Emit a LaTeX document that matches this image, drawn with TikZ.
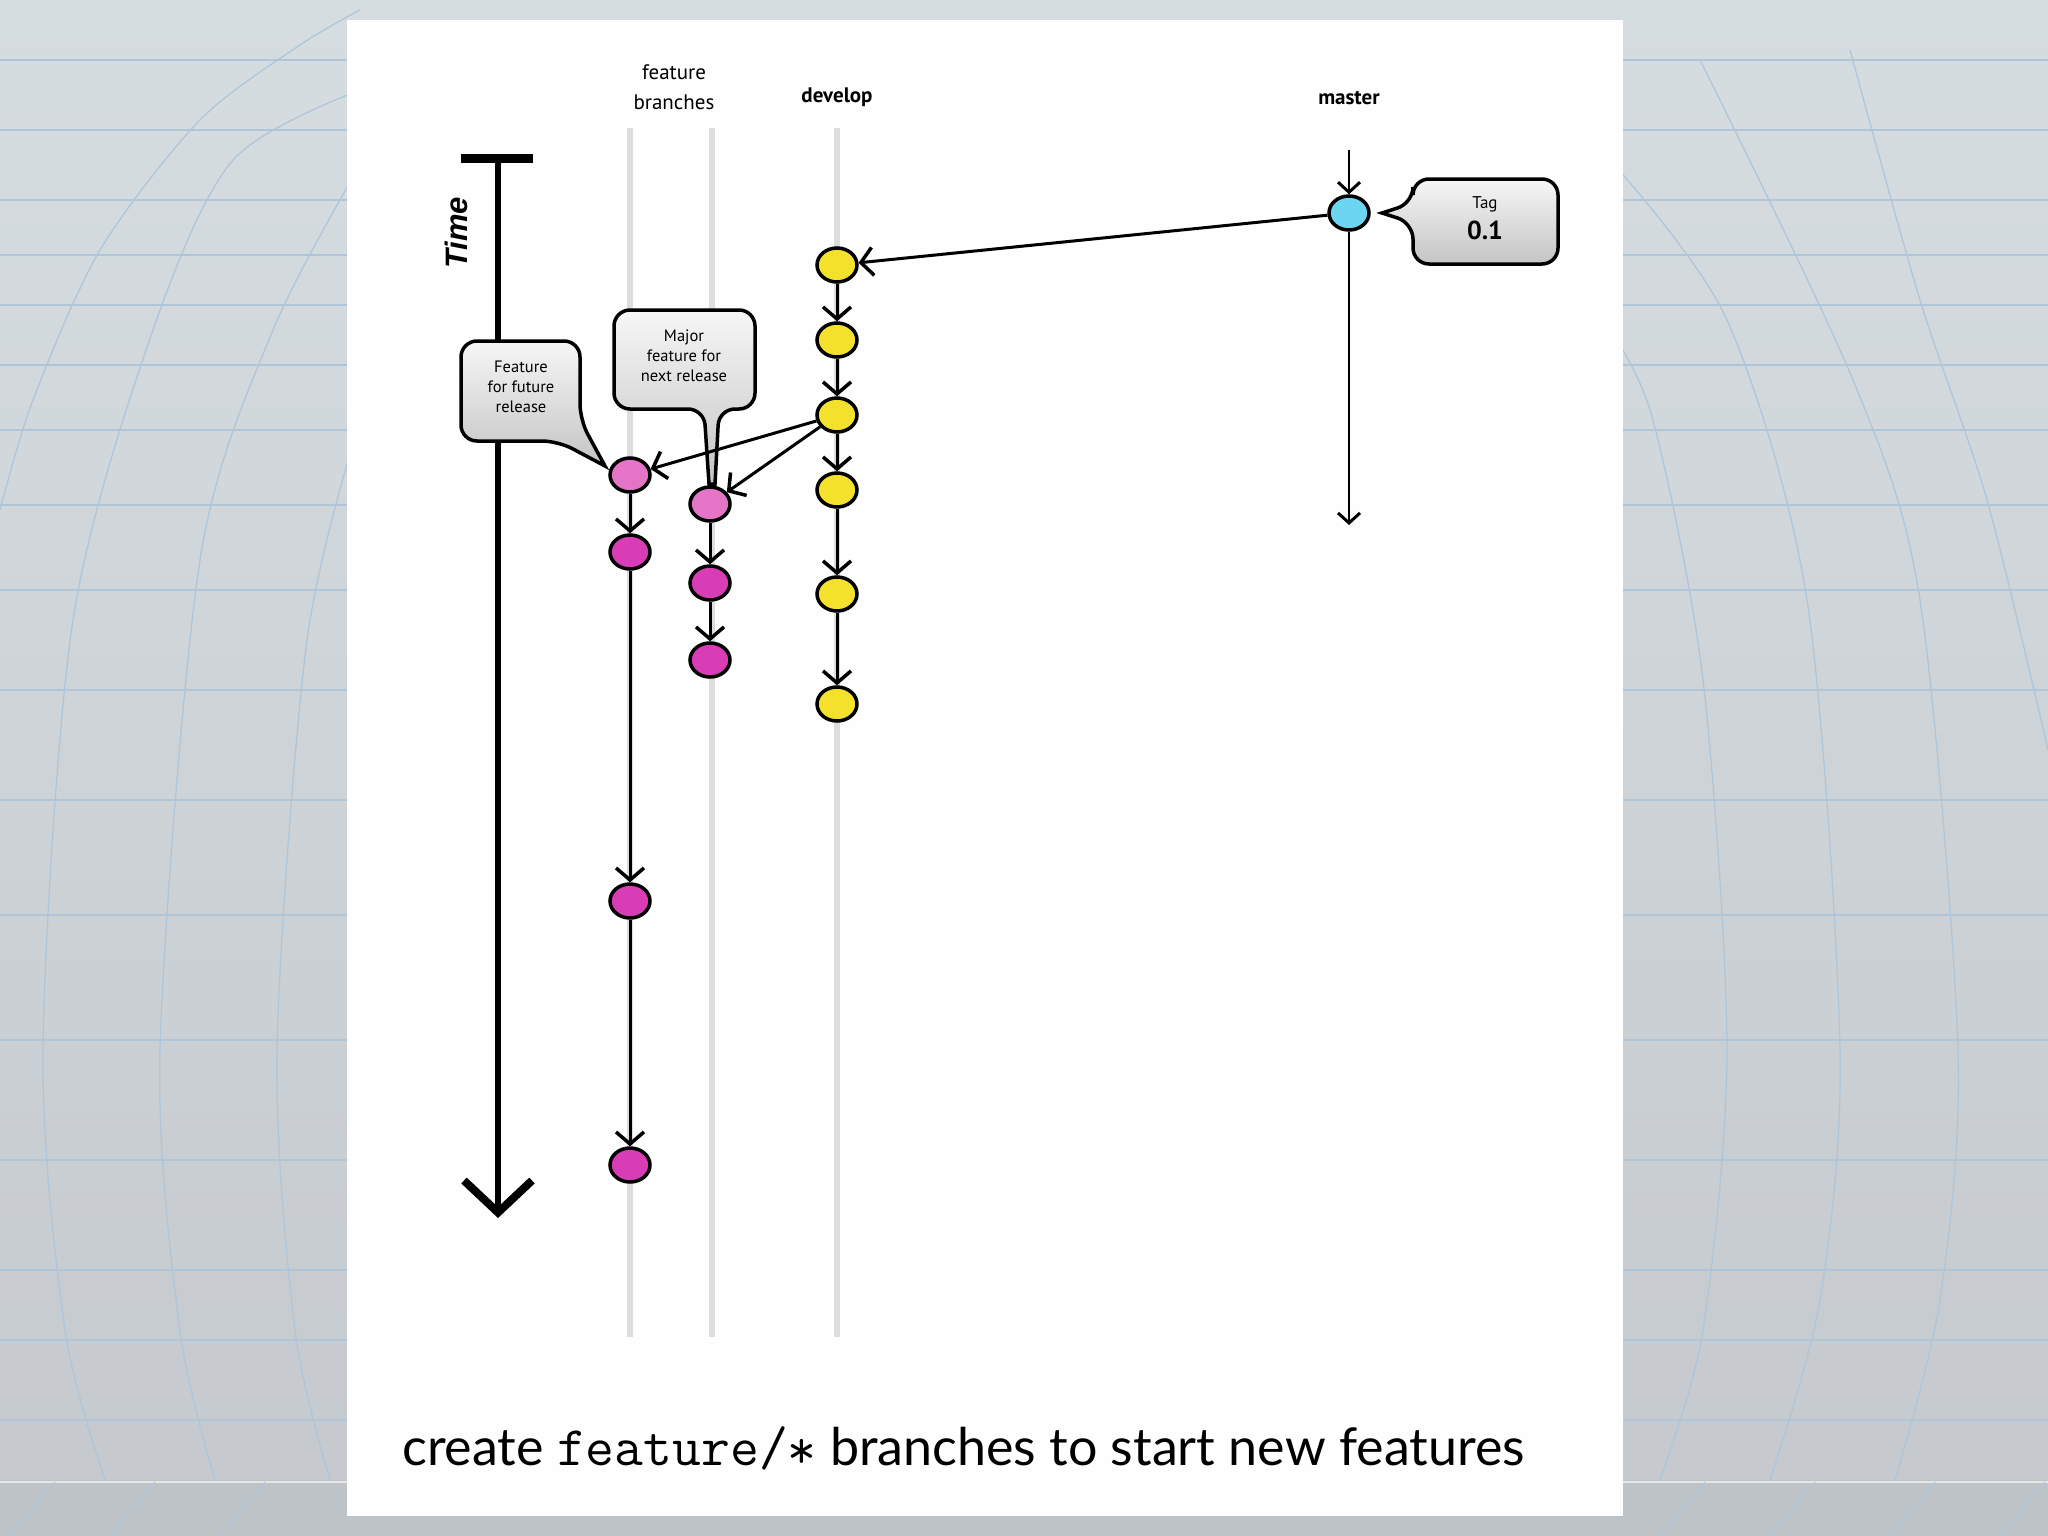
\documentclass[tikz,border=0pt]{standalone}
\usepackage{fontspec}
\setmainfont{PT Sans}
\newfontfamily\capfont{Lato}
\newfontfamily\timefont{Liberation Sans}
\usetikzlibrary{arrows.meta,shapes.geometric}
\definecolor{bgtop}{HTML}{D6DDE1}
\definecolor{bgbot}{HTML}{C5C9CD}
\definecolor{band}{HTML}{BEC3C7}
\definecolor{gridc}{HTML}{AFC6DA}
\definecolor{card}{HTML}{FEFEFE}
\definecolor{lanegray}{HTML}{DDDDDD}
\definecolor{cyellow}{HTML}{F4E12C}
\definecolor{ccyan}{HTML}{6CD6F2}
\definecolor{cpink}{HTML}{E474C6}
\definecolor{cmagenta}{HTML}{D83DB5}
\definecolor{bubtop}{HTML}{F6F6F6}
\definecolor{bubbot}{HTML}{C4C4C4}
\begin{document}
\begin{tikzpicture}[x=1pt,y=-1pt,
  gridline/.style={draw=gridc, line width=1.3pt},
  lane/.style={draw=lanegray, line width=5.5pt},
  commit/.style={ellipse, draw=black, line width=3.5pt, minimum width=40pt, minimum height=34pt, inner sep=0pt},
  devc/.style={commit, fill=cyellow},
  mastc/.style={commit, fill=ccyan},
  featc/.style={commit, fill=cmagenta},
  featstart/.style={commit, fill=cpink},
  flow/.style={draw=black, line width=3pt, -{Straight Barb[length=12pt,width=28pt,line width=3.5pt]}},
  thinflow/.style={draw=black, line width=2.5pt, -{Straight Barb[length=10pt,width=22pt,line width=3pt]}},
  timearrow/.style={draw=black, line width=6pt, -{Straight Barb[length=32pt,width=68pt,line width=8pt]}},
  bubble/.style={draw=black, line width=3.5pt, top color=bubtop, bottom color=bubbot, rounded corners=16pt},
  bubtext/.style={align=center, font=\fontsize{16.5}{20}\selectfont, inner sep=0pt},
  lbl/.style={font=\fontsize{21}{30}\selectfont, align=center, inner sep=0pt},
  blbl/.style={font=\bfseries\fontsize{21}{25}\selectfont, inner sep=0pt}
]
\useasboundingbox (0,0) rectangle (2048,1536);
% background paper
\fill[top color=bgtop, bottom color=bgbot] (0,0) rectangle (2048,1536);
\foreach \yy in {60,130,200,255,305,365,430,505,590,690,800,915,1040,1160,1270,1340,1420}
  \draw[gridline] (0,\yy) -- (2048,\yy);
\draw[gridline] plot[smooth] coordinates {(0,510) (33,400) (100,250) (200,120) (300,45) (360,10)};
\draw[gridline] plot[smooth] coordinates {(360,90) (233,160) (153,330) (73,620) (43,1050) (65,1330) (105,1480)};
\draw[gridline] plot[smooth] coordinates {(360,165) (273,330) (200,560) (160,1050) (180,1330) (215,1480)};
\draw[gridline] plot[smooth] coordinates {(360,420) (307,640) (277,1050) (295,1330) (330,1480)};
\draw[gridline] plot[smooth] coordinates {(1610,330) (1653,420) (1703,680) (1727,1050) (1703,1330) (1660,1480)};
\draw[gridline] plot[smooth] coordinates {(1610,160) (1727,320) (1807,600) (1840,1050) (1820,1300) (1770,1480)};
\draw[gridline] plot[smooth] coordinates {(1700,60) (1853,380) (1920,600) (1958,1050) (1940,1300) (1895,1480)};
\draw[gridline] plot[smooth] coordinates {(1850,50) (1920,300) (1987,500) (2048,750)};
\fill[band] (0,1480) rectangle (2048,1536);
\draw[draw=white, line width=2pt, opacity=0.6] (0,1482) -- (2048,1482);
\foreach \xx in {10,110,220,1660,1770,1890,2000}
  \draw[gridline] (\xx,1536) -- (\xx+45,1482);
% white card
\fill[card] (347,20) rectangle (1623,1516);

% lanes
\draw[lane] (630,128) -- (630,1337);
\draw[lane] (712,128) -- (712,1337);
\draw[lane] (837,128) -- (837,1337);

% labels
\node[lbl] (fblabel) at (674,87) {feature\\branches};
\node[blbl] (devlabel) at (837,97) {develop};
\node[blbl] (mastlabel) at (1349,98) {master};

% time axis
\coordinate (tbarL) at (461,159);
\coordinate (tbarR) at (533,159);
\coordinate (ttop) at (498,159);
\coordinate (tbot) at (498,1218);
\draw[line width=9pt] (tbarL) -- (tbarR);
\draw[timearrow] (ttop) -- (tbot);
\node[rotate=90, font=\timefont\bfseries\itshape\fontsize{31}{36}\selectfont, inner sep=0pt] (timelbl) at (456,233) {Time};

% callouts
\path[bubble] (461,341) -- (580,341) -- (580,420) [sharp corners] -- (605,466) [rounded corners=16pt] -- (558,441) -- (461,441) -- cycle;
\node[bubtext] (b1t) at (521,387) {Feature\\for future\\release};
\path[bubble] (614,310) -- (755,310) -- (755,409) -- (719,409) [sharp corners] -- (715,484) -- (709,484) [rounded corners=16pt] -- (704,409) -- (614,409) -- cycle;
\node[bubtext] (b2t) at (684,356) {Major\\feature for\\next release};
\path[bubble] (1413,179) -- (1558,179) -- (1558,264) -- (1413,264) -- (1413,223) [sharp corners] -- (1382,213) [rounded corners=16pt] -- (1413,203) -- cycle;
\node[font=\fontsize{17}{20}\selectfont, inner sep=0pt] (tagl) at (1485,204) {Tag};
\node[font=\bfseries\fontsize{26}{30}\selectfont, inner sep=0pt] (tagv) at (1485,230) {0.1};

% commits
\node[mastc] (m1) at (1349,213) {};
\node[devc] (d1) at (837,265) {};
\node[devc] (d2) at (837,340) {};
\node[devc] (d3) at (837,415) {};
\node[devc] (d4) at (837,490) {};
\node[devc] (d5) at (837,594) {};
\node[devc] (d6) at (837,704) {};
\node[featstart] (fa1) at (630,475) {};
\node[featc] (fa2) at (630,552) {};
\node[featc] (fa3) at (630,901) {};
\node[featc] (fa4) at (630,1165) {};
\node[featstart] (fb1) at (710,504) {};
\node[featc] (fb2) at (710,583) {};
\node[featc] (fb3) at (710,660) {};

% master
\coordinate (mtop) at (1349,150);
\coordinate (mend) at (1349,525);
\draw[thinflow] (mtop) -- (m1);
\draw[thinflow] (m1) -- (mend);
\draw[flow] (m1) -- (d1);

% develop
\draw[flow] (d1) -- (d2);
\draw[flow] (d2) -- (d3);
\draw[flow] (d3) -- (d4);
\draw[flow] (d4) -- (d5);
\draw[flow] (d5) -- (d6);

% branches
\draw[flow] (d3) -- (fa1);
\draw[flow] (d3) -- (fb1);
\draw[flow] (fa1) -- (fa2);
\draw[flow] (fa2) -- (fa3);
\draw[flow] (fa3) -- (fa4);
\draw[flow] (fb1) -- (fb2);
\draw[flow] (fb2) -- (fb3);

% caption
\node[anchor=base west, font=\capfont\fontsize{52}{62}\selectfont, inner sep=0pt] (cap) at (402,1465) {create {\ttfamily\fontsize{56}{66}\selectfont feature/\raisebox{-0.06em}{*}} branches to start new features};
\end{tikzpicture}
\end{document}
